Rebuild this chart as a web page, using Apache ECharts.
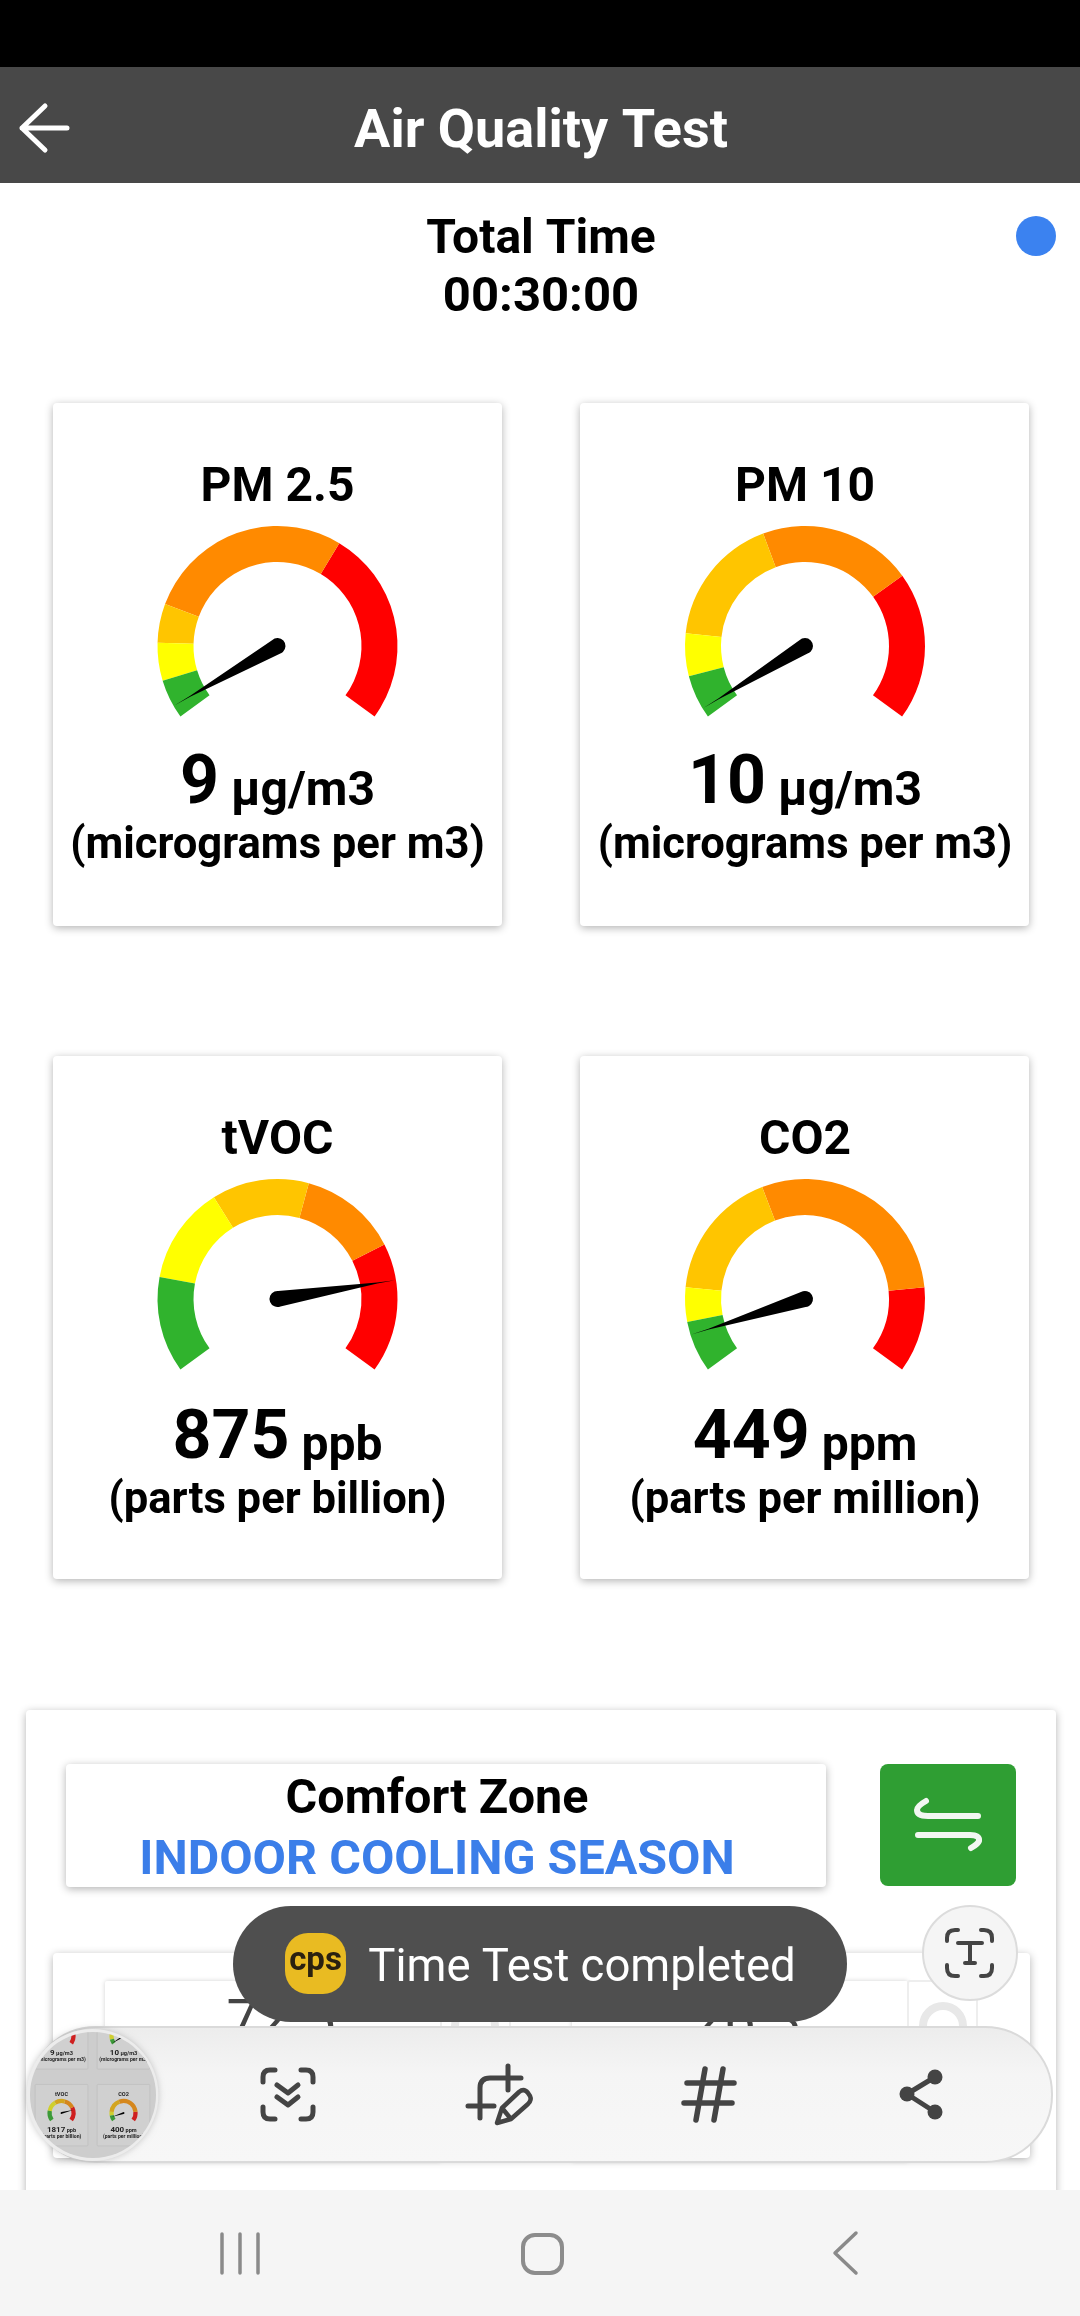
<!DOCTYPE html>
<html>
<head>
<meta charset="utf-8">
<title>Air Quality Test</title>
<script src="https://cdn.jsdelivr.net/npm/echarts@6/dist/echarts.min.js"></script>
<style>
  html, body { margin: 0; padding: 0; background: #fff; }
  #main { position: absolute; left: 0; top: 0; width: 1080px; height: 2316px; }
  #thumb { position: absolute; left: 30px; top: 2032px; width: 126px; height: 126px;
           border-radius: 50%; overflow: hidden; }
</style>
</head>
<body>
<div id="main"></div>
<div id="thumb"></div>
<script>
var TITLES = ["PM 2.5", "PM 10", "tVOC", "CO2"];
var READINGS = ["9", "10", "875", "449"];
var UNITS = ["µg/m3", "µg/m3", "ppb", "ppm"];
var NOTES = ["(micrograms per m3)", "(micrograms per m3)", "(parts per billion)", "(parts per million)"];

// needle position and band ends, as percent of the dial sweep
var NEEDLES = [2.4, 1.8, 82.1, 7.4];
var BANDS_PM25 = [7.6, 14.9, 22.4, 62.3, 100];
var BANDS_PM10 = [8.5, 16.7, 41.9, 71.5, 100];
var BANDS_TVOC = [18.5, 37.3, 56, 75, 100];
var BANDS_CO2 = [9.9, 16.5, 41.7, 83.5, 100];
var BANDS = [BANDS_PM25, BANDS_PM10, BANDS_TVOC, BANDS_CO2];

var BAND_COLORS = ["#30b32d", "#ffff00", "#ffc500", "#ff8a00", "#ff0000"];
var THUMB_COLORS = ["#3c9a38", "#cfcf2e", "#d3a51f", "#d5871d", "#cf2020"];

// the screenshot preview shows an older run
var THUMB_READINGS = ["9", "10", "1817", "400"];
var THUMB_NEEDLES = [2.4, 1.8, 80, 7];

var GAUGE_X = [277.5, 805, 277.5, 805];
var GAUGE_Y = [646, 646, 1299, 1299];
var DETAIL_Y = [165, 165, 167, 167];
var CARD_X = [53, 580, 53, 580];
var CARD_Y = [403, 403, 1056, 1056];
var CARD_W = 449;
var CARD_H = 523;

var FONT = "Roboto";
var NEEDLE_PATH = "path://M8 0 L8.4 18 L15.8 117 A8 8 0 1 1 0.2 117 L7.6 18 Z";

var gaugeSeries = function (i, k, toX, toY, colors, reading, needle, dark) {
  return {
    type: "gauge",
    center: [toX(GAUGE_X[i]), toY(GAUGE_Y[i])],
    radius: 120 * k,
    startAngle: 216,
    endAngle: -36,
    min: 0,
    max: 100,
    animation: false,
    silent: true,
    axisLine: {
      lineStyle: {
        width: 36 * k,
        color: BANDS[i].map(function (stop, idx) {
          return [stop / 100, colors[idx]];
        }),
      },
    },
    axisTick: { show: false },
    splitLine: { show: false },
    axisLabel: { show: false },
    anchor: { show: false },
    pointer: {
      icon: NEEDLE_PATH,
      width: 16 * k,
      length: 127 * k,
      offsetCenter: [0, 8 * k],
      keepAspect: false,
      itemStyle: { color: "#000" },
    },
    title: {
      offsetCenter: [0, -157 * k],
      color: dark,
      fontFamily: FONT,
      fontWeight: "bold",
      fontSize: 48 * k,
    },
    detail: {
      offsetCenter: [0, DETAIL_Y[i] * k],
      valueAnimation: false,
      formatter: function () {
        return "{val|" + reading + "}{unit| " + UNITS[i] + "}\n{note|" + NOTES[i] + "}";
      },
      rich: {
        val: { fontFamily: FONT, fontWeight: "bold", fontSize: 68 * k, lineHeight: 72 * k, color: dark },
        unit: { fontFamily: FONT, fontWeight: "bold", fontSize: 48 * k, lineHeight: 72 * k, color: dark, padding: [14 * k, 0, 0, 0] },
        note: { fontFamily: FONT, fontWeight: "bold", fontSize: 43.6 * k, lineHeight: 50 * k, color: dark },
      },
    },
    data: [{ value: needle[i], name: TITLES[i] }],
  };
};

// helpers for the app chrome around the gauges
var box = function (x, y, w, h, r, fill, extra) {
  return {
    type: "rect",
    z: (extra && extra.z) || 0,
    shape: { x: x, y: y, width: w, height: h, r: r },
    style: Object.assign({ fill: fill }, extra && extra.style),
  };
};
var label = function (str, x, y, size, weight, color, z) {
  return {
    type: "text",
    z: z || 0,
    x: x,
    y: y,
    style: {
      text: str,
      fill: color,
      fontFamily: FONT,
      fontSize: size,
      fontWeight: weight,
      align: "center",
      verticalAlign: "middle",
    },
  };
};
var iconCount = 0;
var stroke = function (d, color, lineWidth, z) {
  var name = "icon" + iconCount++;
  echarts.graphic.registerShape(name, echarts.graphic.extendPath(d));
  return {
    type: name,
    z: z || 0,
    style: { fill: null, stroke: color, lineWidth: lineWidth, lineCap: "round", lineJoin: "round" },
  };
};
var dot = function (cx, cy, r, fill, z, extra) {
  return {
    type: "circle",
    z: z || 0,
    shape: { cx: cx, cy: cy, r: r },
    style: Object.assign({ fill: fill }, extra),
  };
};
var cardShadow = { shadowBlur: 8, shadowColor: "rgba(0,0,0,0.3)", shadowOffsetY: 2 };

var chrome = [
  box(0, 0, 1080, 67, 0, "#000"),
  box(0, 67, 1080, 116, 0, "#484848"),
  stroke("M45 106 L22 128 L45 150 M22 128 L67 128", "#fff", 5),
  label("Air Quality Test", 541, 133, 54, "bold", "#fff"),
  label("Total Time", 541, 241, 48, "bold", "#000"),
  label("00:30:00", 541, 299, 49, "bold", "#000"),
  dot(1036, 236, 20, "#3b82f0"),

  // lower comfort zone card
  box(26, 1710, 1030, 500, 4, "#fff", { style: cardShadow }),
  box(66, 1764, 760, 123, 4, "#fff", { style: cardShadow }),
  label("Comfort Zone", 437, 1801, 48.5, "bold", "#000"),
  label("INDOOR COOLING SEASON", 437, 1862, 48.5, "bold", "#3b7ee9"),
  box(880, 1764, 136, 122, 8, "#2f9e33"),
  stroke("M926 1801 Q917 1806 917 1810 Q917 1816 928 1816 L978 1816", "#f2f7f2", 6),
  stroke("M918 1835 L970 1835 Q980 1835 979 1841 Q978 1844 971 1848", "#f2f7f2", 6),

  box(53, 1953, 977, 205, 4, "#fff", { style: cardShadow }),
  box(105, 1981, 336, 180, 2, "#fff", { style: { shadowBlur: 5, shadowColor: "rgba(0,0,0,0.18)" } }),
  box(441, 1981, 69, 180, 2, "#fff", { style: { stroke: "#eee", lineWidth: 2 } }),
  box(572, 1981, 336, 180, 2, "#fff", { style: { shadowBlur: 5, shadowColor: "rgba(0,0,0,0.18)" } }),
  box(908, 1981, 69, 180, 2, "#fff", { style: { stroke: "#eee", lineWidth: 2 } }),
  label("72.5", 281, 2025, 56, 400, "#444"),
  label("26.3", 747, 2025, 56, 400, "#444"),
  { type: "ring", shape: { cx: 475, cy: 2026, r: 24, r0: 16 }, style: { fill: "#e8e8e8" } },
  { type: "ring", shape: { cx: 943, cy: 2026, r: 24, r0: 16 }, style: { fill: "#e8e8e8" } },

  // toast
  box(233, 1906, 614, 116, 58, "#4f4f4f", { z: 5 }),
  box(285, 1933, 61, 61, 23, "#e9bb22", { z: 6 }),
  label("cps", 315.5, 1962, 33, "bold", "#2a2110", 7),
  label("Time Test completed", 582, 1970, 45.5, 400, "#fff", 7),

  // capture toolbar
  box(29, 2027, 1023, 135, 67, new echarts.graphic.LinearGradient(0, 0, 0, 1, [
    { offset: 0, color: "#ececec" },
    { offset: 0.35, color: "#f5f5f5" },
    { offset: 1, color: "#f7f7f7" },
  ]), { z: 8, style: { stroke: "#dadada", lineWidth: 2 } }),
  dot(92.5, 2095, 66, "#ececec", 9, { shadowBlur: 6, shadowColor: "rgba(0,0,0,0.2)" }),

  stroke("M263 2082 L263 2077 Q263 2070 270 2070 L275 2070 M301 2070 L306 2070 Q313 2070 313 2077 L313 2082 M313 2107 L313 2112 Q313 2119 306 2119 L301 2119 M275 2119 L270 2119 Q263 2119 263 2112 L263 2107 M277 2085 L288 2093 L298 2085 M277 2097 L288 2105 L298 2097", "#444", 5, 9),
  stroke("M508 2066 L508 2090 M521 2078 L490 2078 Q480 2078 480 2088 L480 2118 M468 2106 L494 2106", "#444", 5, 9),
  stroke("M497 2123 L502 2108 L519 2092 Q524 2088 528 2093 L530 2096 Q532 2100 528 2104 L511 2119 Z M502 2108 L511 2119", "#444", 4.5, 9),
  stroke("M687 2083 L734 2083 M684 2103 L732 2103 M705 2069 L696 2120 M723 2069 L714 2120", "#444", 5.5, 9),
  stroke("M935 2077 L907 2094 L935 2112", "#444", 5, 9),
  dot(935, 2077, 7.5, "#444", 9),
  dot(907, 2094, 7.5, "#444", 9),
  dot(935, 2112, 7.5, "#444", 9),

  // text extraction button
  dot(970, 1953, 47, "#f5f5f5", 9, { stroke: "#dcdcdc", lineWidth: 2 }),
  stroke("M947 1941 L947 1938 Q947 1930 955 1930 L958 1930 M981 1930 L984 1930 Q992 1930 992 1938 L992 1941 M992 1965 L992 1968 Q992 1976 984 1976 L981 1976 M958 1976 L955 1976 Q947 1976 947 1968 L947 1965 M958 1943 L982 1943 M970 1943 L970 1963 M965 1963 L975 1963", "#444", 4, 10),

  // navigation bar
  box(0, 2190, 1080, 126, 0, "#f5f5f5", { z: 11 }),
  stroke("M222 2234 L222 2273 M240 2234 L240 2273 M258 2234 L258 2273", "#8a8a8a", 3.5, 12),
  {
    type: "rect",
    z: 12,
    shape: { x: 523, y: 2235, width: 39, height: 38, r: 12 },
    style: { fill: null, stroke: "#8c8c8c", lineWidth: 4 },
  },
  stroke("M856 2233 L835 2253 L856 2273", "#8a8a8a", 3.5, 12),
];

var cards = CARD_X.map(function (x, i) {
  return box(x, CARD_Y[i], CARD_W, CARD_H, 4, "#fff", { style: cardShadow });
});

var same = function (v) {
  return v;
};

var chart = echarts.init(document.getElementById("main"), null, { renderer: "canvas" });
chart.setOption({
  backgroundColor: "#fff",
  animation: false,
  graphic: { elements: cards.concat(chrome) },
  series: TITLES.map(function (t, i) {
    return gaugeSeries(i, 1, same, same, BAND_COLORS, READINGS[i], NEEDLES, "#000");
  }),
});

// preview circle: the same four cards, scaled down and clipped by the div
var THUMB_K = 0.1176;
var thumbX = function (x) {
  return 92.5 + (x - 541) * THUMB_K - 30;
};
var thumbY = function (y) {
  return 2113 + (y - 1299) * THUMB_K - 2032;
};
var thumb = echarts.init(document.getElementById("thumb"), null, { renderer: "canvas" });
thumb.setOption({
  backgroundColor: "#cdcdcd",
  animation: false,
  graphic: {
    elements: CARD_X.map(function (x, i) {
      return {
        type: "rect",
        shape: { x: thumbX(x), y: thumbY(CARD_Y[i]), width: CARD_W * THUMB_K, height: CARD_H * THUMB_K, r: 1 },
        style: { fill: "#d0d0d0", stroke: "#c2c2c2", lineWidth: 1 },
      };
    }),
  },
  series: TITLES.map(function (t, i) {
    return gaugeSeries(i, THUMB_K, thumbX, thumbY, THUMB_COLORS, THUMB_READINGS[i], THUMB_NEEDLES, "#222");
  }),
});
</script>
</body>
</html>
